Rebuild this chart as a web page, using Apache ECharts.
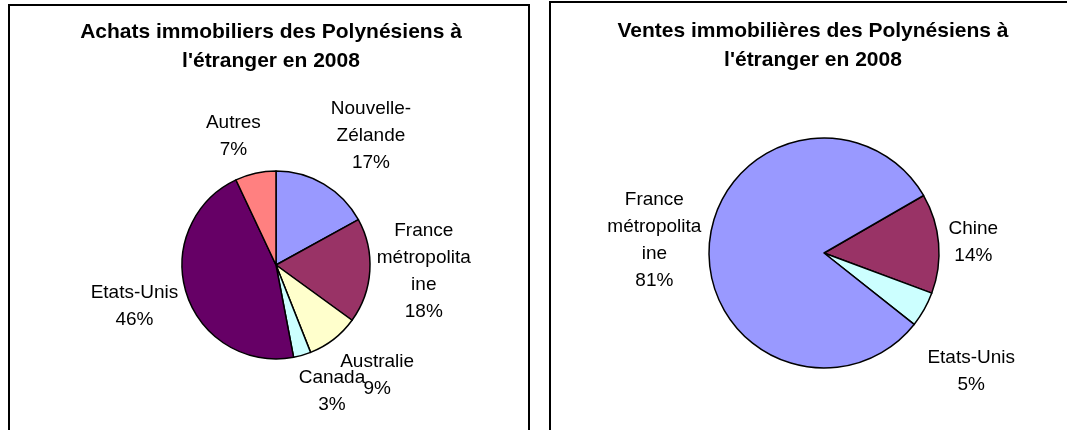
<!DOCTYPE html>
<html>
<head>
<meta charset="utf-8">
<title>Immobilier des Polynésiens à l'étranger 2008</title>
<script src="https://cdn.jsdelivr.net/npm/echarts@6/dist/echarts.min.js"></script>
<style>
  html, body { margin: 0; padding: 0; background: #fff; }
  #chart { width: 1067px; height: 430px; }
</style>
</head>
<body>
<div id="chart"></div>
<script>
// data (shares in %)
const achatsCategories = ['Nouvelle-Zélande', 'France métropolitaine', 'Australie', 'Canada', 'Etats-Unis', 'Autres'];
const achatsShares = [17, 18, 9, 3, 46, 7];
const ventesCategories = ['Chine', 'Etats-Unis', 'France métropolitaine'];
const ventesShares = [14, 5, 81];

const achatsTitle = "Achats immobiliers des Polynésiens à\nl'étranger en 2008";
const ventesTitle = "Ventes immobilières des Polynésiens à\nl'étranger en 2008";

// how the labels wrap in the original
const wrapped = {
  'Nouvelle-Zélande': 'Nouvelle-\nZélande',
  'France métropolitaine': 'France\nmétropolita\nine',
};

const FONT = "'Liberation Sans', Arial, sans-serif";
const LABEL_GAP = 14;

const colorOf = {
  'Nouvelle-Zélande': '#9999ff',
  'France métropolitaine': '#993366',
  'Australie': '#ffffcc',
  'Canada': '#ccffff',
  'Etats-Unis': '#660066',
  'Autres': '#ff8080',
  'Chine': '#993366',
};

const pies = [
  {
    categories: achatsCategories,
    values: achatsShares,
    colors: achatsCategories.map((c) => colorOf[c]),
    center: [276, 265],
    radius: 94,
    startAngle: 90,
    nudge: {
      'Nouvelle-Zélande': [16, 4],
      'France métropolitaine': [-7, -3],
      'Australie': [14, -2],
      'Canada': [18, -4],
      'Etats-Unis': [5, -6],
      'Autres': [-13, 4],
    },
  },
  {
    categories: ventesCategories,
    values: ventesShares,
    colors: ['#993366', '#ccffff', '#9999ff'],
    center: [824, 253],
    radius: 115,
    startAngle: 30,
    nudge: {
      'Chine': [-4, 2],
      'Etats-Unis': [-9, 30],
      'France métropolitaine': [6, 0],
    },
  },
];

function labelLayoutFor(pie) {
  const total = pie.values.reduce((a, b) => a + b, 0);
  return (params) => {
    const i = params.dataIndex;
    let before = 0;
    for (let k = 0; k < i; k++) before += pie.values[k];
    // degrees clockwise from 12 o'clock
    const mid = (90 - pie.startAngle) + ((before + pie.values[i] / 2) / total) * 360;
    const a = (mid * Math.PI) / 180;
    const sx = Math.sin(a);
    const cy = Math.cos(a);
    const w = params.labelRect.width;
    const h = params.labelRect.height;
    const ext = Math.min(
      Math.abs(sx) > 1e-6 ? w / 2 / Math.abs(sx) : Infinity,
      Math.abs(cy) > 1e-6 ? h / 2 / Math.abs(cy) : Infinity
    );
    const d = pie.radius + LABEL_GAP + ext;
    const n = pie.nudge[pie.categories[i]] || [0, 0];
    return {
      x: pie.center[0] + d * sx + n[0],
      y: pie.center[1] - d * cy + n[1],
      align: 'center',
      verticalAlign: 'middle',
    };
  };
}

function pieSeries(pie) {
  const total = pie.values.reduce((a, b) => a + b, 0);
  return {
    type: 'pie',
    center: pie.center,
    radius: [0, pie.radius],
    startAngle: pie.startAngle,
    clockwise: true,
    silent: true,
    animation: false,
    avoidLabelOverlap: false,
    data: pie.categories.map((name, i) => ({
      name,
      value: pie.values[i],
      itemStyle: { color: pie.colors[i] },
    })),
    itemStyle: { borderColor: '#000', borderWidth: 1.5 },
    label: {
      show: true,
      position: 'outside',
      color: '#000',
      fontFamily: FONT,
      fontSize: 19,
      lineHeight: 27,
      align: 'center',
      formatter: (p) => `${wrapped[p.name] || p.name}\n${Math.round((p.value / total) * 100)}%`,
    },
    labelLine: { show: false },
    labelLayout: labelLayoutFor(pie),
    emphasis: { disabled: true },
  };
}

const titleStyle = { fontFamily: FONT, fontSize: 21, fontWeight: 'bold', lineHeight: 29, color: '#000' };

const chart = echarts.init(document.getElementById('chart'));
chart.setOption({
  animation: false,
  backgroundColor: '#fff',
  title: [
    { text: achatsTitle, left: 271, top: 18, textAlign: 'center', padding: 0, textStyle: titleStyle },
    { text: ventesTitle, left: 813, top: 17, textAlign: 'center', padding: 0, textStyle: titleStyle },
  ],
  graphic: [
    { type: 'rect', silent: true, shape: { x: 9, y: 5, width: 520, height: 480 }, style: { fill: 'none', stroke: '#000', lineWidth: 2 } },
    { type: 'rect', silent: true, shape: { x: 550, y: 2, width: 560, height: 480 }, style: { fill: 'none', stroke: '#000', lineWidth: 2 } },
  ],
  series: pies.map(pieSeries),
});
</script>
</body>
</html>
